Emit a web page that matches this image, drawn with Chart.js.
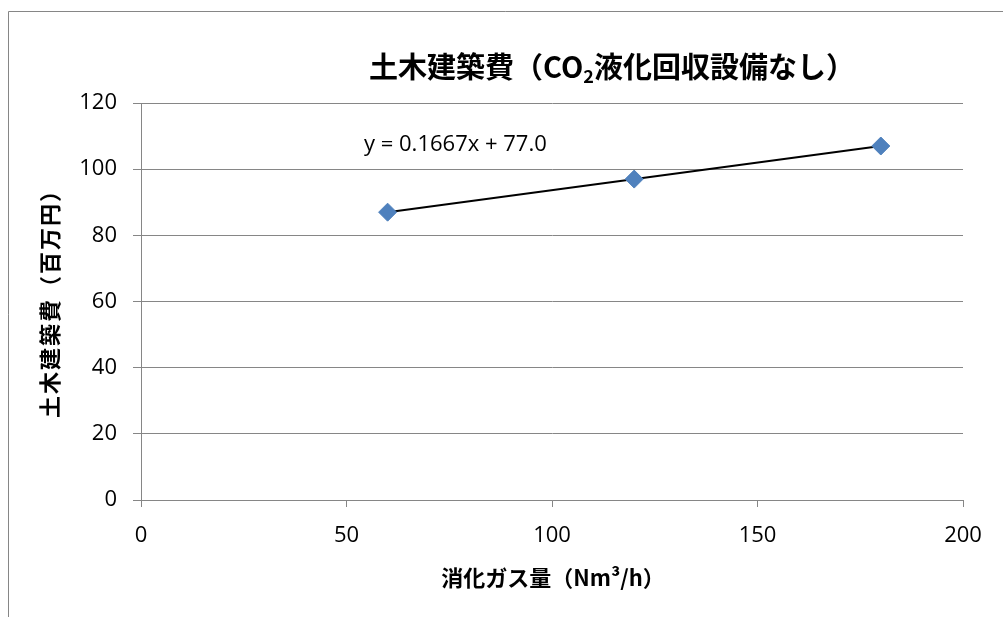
<!DOCTYPE html>
<html>
<head>
<meta charset="utf-8">
<script src="https://cdn.jsdelivr.net/npm/chart.js@4/dist/chart.umd.min.js"></script>
<style>
  html, body { margin: 0; padding: 0; background: #fff; }
  #wrap { position: relative; width: 1003px; height: 617px; }
</style>
</head>
<body>
<div id="wrap"><canvas id="c" width="1003" height="617"></canvas></div>
<script>
// Gas flow (Nm3/h) and civil construction cost (million yen)
const gasFlow = [60, 120, 180];
const civilCost = [87, 97, 107];

// Linear trendline fitted to the points
const trendSlope = 0.1667;
const trendIntercept = 77.0;
const trendRange = [60, 180];

const yTicks = [0, 20, 40, 60, 80, 100, 120];
const xTicks = [0, 50, 100, 150, 200];

const titleParts = ['土木建築費（CO', '2', '液化回収設備なし）'];
const xTitle = '消化ガス量（Nm³/h）';
const yTitle = '土木建築費（百万円）';
const trendLabel = 'y = 0.1667x + 77.0';

const trendPoints = trendRange.map(x => ({ x: x, y: trendSlope * x + trendIntercept }));
const scatterPoints = gasFlow.map((x, i) => ({ x: x, y: civilCost[i] }));

const FONT = '"Open Sans", "Noto Sans CJK JP", sans-serif';
const CJK = '"Noto Sans CJK JP", "Open Sans", sans-serif';
const GRID = '#868686';

const decorations = {
  id: 'decorations',
  beforeDraw(chart) {
    const ctx = chart.ctx;
    ctx.save();
    ctx.fillStyle = '#fff';
    ctx.fillRect(0, 0, chart.width, chart.height);
    // outer frame (top and left edges)
    ctx.strokeStyle = GRID;
    ctx.lineWidth = 1;
    ctx.beginPath();
    ctx.moveTo(8.5, chart.height);
    ctx.lineTo(8.5, 11.5);
    ctx.lineTo(chart.width, 11.5);
    ctx.stroke();
    ctx.restore();
  },
  afterDraw(chart) {
    const ctx = chart.ctx;
    ctx.save();
    ctx.fillStyle = '#000';
    ctx.textBaseline = 'middle';

    // chart title with subscript
    const big = 'bold 29px ' + CJK;
    const small = 'bold 18px ' + CJK;
    ctx.font = big;
    const w0 = ctx.measureText(titleParts[0]).width;
    const w2 = ctx.measureText(titleParts[2]).width;
    ctx.font = small;
    const w1 = ctx.measureText(titleParts[1]).width;
    let tx = 612 - (w0 + w1 + w2) / 2;
    const ty = 67;
    ctx.textAlign = 'left';
    ctx.font = big;
    ctx.fillText(titleParts[0], tx, ty);
    tx += w0;
    ctx.font = small;
    ctx.fillText(titleParts[1], tx, ty + 9);
    tx += w1;
    ctx.font = big;
    ctx.fillText(titleParts[2], tx, ty);

    // axis titles
    ctx.textAlign = 'center';
    ctx.font = 'bold 22px ' + CJK;
    ctx.fillText(xTitle, 553, 578);
    ctx.save();
    ctx.translate(50, 299);
    ctx.rotate(-Math.PI / 2);
    ctx.letterSpacing = '2px';
    ctx.fillText(yTitle, 1, 0);
    ctx.restore();

    // trendline equation
    ctx.textAlign = 'left';
    ctx.font = '22px ' + FONT;
    ctx.fillText(trendLabel, 364, 145);
    ctx.restore();
  }
};

new Chart(document.getElementById('c'), {
  type: 'scatter',
  data: {
    datasets: [
      {
        type: 'line',
        data: trendPoints,
        borderColor: '#000',
        borderWidth: 2,
        pointRadius: 0,
        fill: false,
        order: 1
      },
      {
        data: scatterPoints,
        pointStyle: 'rectRot',
        pointRadius: 9,
        pointHoverRadius: 9,
        backgroundColor: '#4F81BD',
        borderColor: '#4F81BD',
        borderWidth: 1,
        order: 0
      }
    ]
  },
  options: {
    responsive: false,
    animation: false,
    events: [],
    layout: { padding: { left: 0, right: 40, top: 103, bottom: 0 } },
    plugins: { legend: { display: false }, title: { display: false }, tooltip: { enabled: false } },
    scales: {
      x: {
        type: 'linear',
        min: 0, max: 200,
        afterBuildTicks(s) { s.ticks = xTicks.map(v => ({ value: v })); },
        afterFit(s) { s.height = 117; },
        grid: { drawOnChartArea: false, drawTicks: true, tickLength: 7, color: GRID, tickColor: GRID },
        border: { display: true, color: GRID, width: 1 },
        ticks: { color: '#000', font: { family: FONT, size: 22 }, padding: 16, maxRotation: 0 }
      },
      y: {
        type: 'linear',
        min: 0, max: 120,
        afterBuildTicks(s) { s.ticks = yTicks.map(v => ({ value: v })); },
        afterFit(s) { s.width = 141; },
        grid: { drawOnChartArea: true, drawTicks: true, tickLength: 8, color: GRID, tickColor: GRID },
        border: { display: true, color: GRID, width: 1 },
        ticks: { color: '#000', font: { family: FONT, size: 22 }, padding: 16 }
      }
    }
  },
  plugins: [decorations]
});
</script>
</body>
</html>
